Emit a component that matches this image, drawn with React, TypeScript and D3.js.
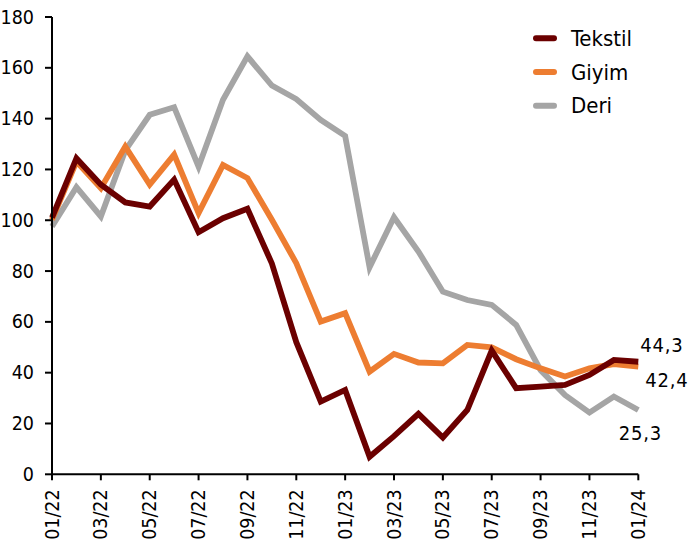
import React from "react";
import * as d3 from "d3";

const months = [
  "01/22","02/22","03/22","04/22","05/22","06/22","07/22","08/22","09/22","10/22","11/22","12/22",
  "01/23","02/23","03/23","04/23","05/23","06/23","07/23","08/23","09/23","10/23","11/23","12/23","01/24",
];
const tekstil = [101, 124.4, 114, 107, 105.4, 116, 95.3, 100.8, 104.5, 83, 52, 28.6, 33.2, 6.9, 15, 23.8, 14.5, 25.3, 48.7, 33.9, 34.5, 35.2, 39.1, 45, 44.3];
const giyim = [100.2, 123.1, 112.6, 129, 114, 125.8, 102.8, 121.8, 116.6, 100.2, 83.1, 60.1, 63.4, 40.4, 47.4, 44, 43.7, 50.9, 50, 45.3, 41.7, 38.5, 41.7, 43.4, 42.4];
const deri = [97.5, 113, 101.5, 127.5, 141.5, 144.5, 121.1, 147.4, 164.5, 153, 147.7, 139.5, 133.2, 81.5, 101.2, 87.7, 71.9, 68.6, 66.7, 58.8, 41, 31.2, 24.3, 30.6, 25.3];
const yTicks = [0, 20, 40, 60, 80, 100, 120, 140, 160, 180];
const seriesNames = ["Tekstil", "Giyim", "Deri"];
const endLabels = ["44,3", "42,4", "25,3"];

const W = 689, H = 546;
const left = 52, right = 638.3, top = 17, bottom = 474.3;
const colors = ["#6B0000", "#ED7D31", "#A5A5A5"];
const font = "'DejaVu Sans Condensed', 'DejaVu Sans', sans-serif";

export default function App() {
  const x = d3.scaleLinear().domain([0, months.length - 1]).range([left, right]);
  const y = d3.scaleLinear().domain([0, 180]).range([bottom, top]);
  const line = d3.line<number>().x((_, i) => x(i)).y((d) => y(d));
  const data = [tekstil, giyim, deri];
  const labelPos = [
    { dx: 2, dy: -17 },
    { dx: 7, dy: 13.5 },
    { dx: -19.5, dy: 23 },
  ];
  return (
    <svg width={W} height={H} style={{ position: "absolute", left: 0, top: 0, background: "#fff" }} fontFamily={font}>
      {[2, 1, 0].map((k) => (
        <path key={k} d={line(data[k]) || ""} fill="none" stroke={colors[k]} strokeWidth={5.8} strokeLinejoin="miter" />
      ))}
      <line x1={left} x2={left} y1={top} y2={bottom} stroke="#000" strokeWidth={2} />
      <line x1={left} x2={right} y1={bottom} y2={bottom} stroke="#000" strokeWidth={2} />
      {yTicks.map((t) => (
        <g key={t}>
          <line x1={left - 7} x2={left} y1={y(t)} y2={y(t)} stroke="#000" strokeWidth={2} />
          <text x={34} y={y(t)} textAnchor="end" dominantBaseline="central" fontSize={19.5} fill="#000">{t}</text>
        </g>
      ))}
      {months.map((m, i) =>
        i % 2 === 0 ? (
          <g key={m}>
            <line x1={x(i)} x2={x(i)} y1={bottom} y2={bottom + 6} stroke="#000" strokeWidth={2} />
            <text transform={`translate(${x(i)},${bottom + 15}) rotate(-90)`} textAnchor="end" dominantBaseline="central" fontSize={19.5} fill="#000">{m}</text>
          </g>
        ) : null
      )}
      {data.map((d, k) => (
        <text key={k} x={x(d.length - 1) + labelPos[k].dx} y={y(d[d.length - 1]) + labelPos[k].dy} fontSize={20} letterSpacing={0.8} fill="#000" dominantBaseline="central">{endLabels[k]}</text>
      ))}
      {seriesNames.map((n, k) => (
        <g key={n} transform={`translate(533,${38.3 + k * 33.7})`}>
          <line x1={3} x2={21} y1={0} y2={0} stroke={colors[k]} strokeWidth={6} strokeLinecap="round" />
          <text x={38} y={0} dominantBaseline="central" fontSize={22} fill="#000">{n}</text>
        </g>
      ))}
    </svg>
  );
}
